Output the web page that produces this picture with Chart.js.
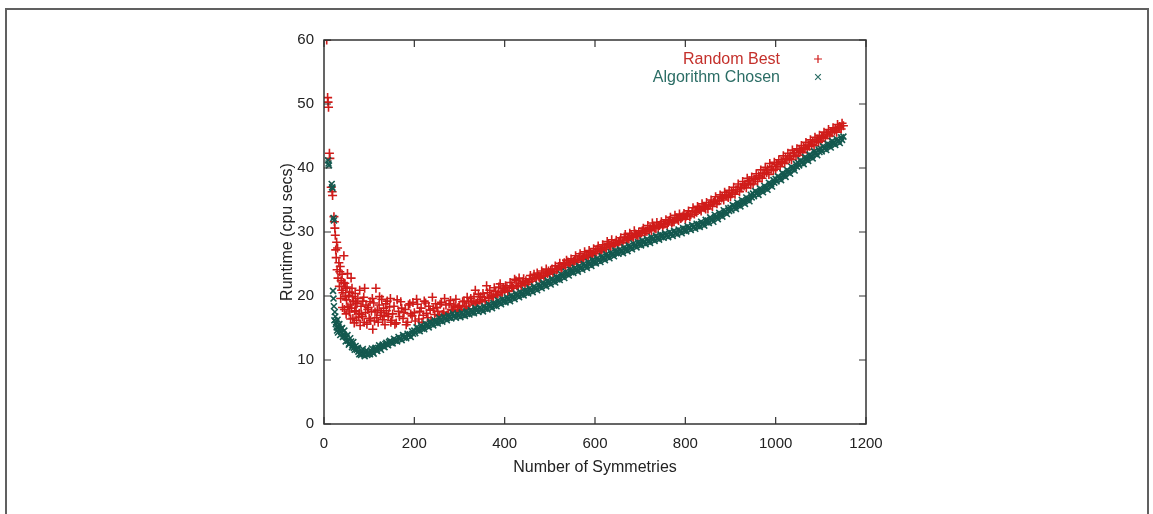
<!DOCTYPE html>
<html><head><meta charset="utf-8">
<script src="https://cdn.jsdelivr.net/npm/chart.js@4.4.0/dist/chart.umd.min.js"></script>
<style>
html,body{margin:0;padding:0;background:#fff;}
#wrap{position:relative;width:1153px;height:514px;overflow:hidden;background:#fff;}
#frame{position:absolute;left:5px;top:8px;width:1144px;height:530px;border:2px solid #606060;box-sizing:border-box;}
#c{position:absolute;left:0;top:0;}
.leg{position:absolute;font-family:"Liberation Sans",Arial,sans-serif;font-size:16px;line-height:18px;white-space:nowrap;text-align:right;}
</style></head><body>
<div id="wrap">
<div id="frame"></div>
<canvas id="c" width="1153" height="514"></canvas>
<div class="leg" style="right:373px;top:50px;color:#c4302b">Random Best</div>
<div class="leg" style="right:373px;top:68px;color:#2b6d65">Algorithm Chosen</div>
</div>
<script>
const seriesNames = ['Random Best', 'Algorithm Chosen'];
const xTicks = [0, 200, 400, 600, 800, 1000, 1200];
const yTicks = [0, 10, 20, 30, 40, 50, 60];

// small symmetry counts (scattered region)
const earlyRandomX = [6,8,9,10,12,13,16,18,19,22,23,24,25,28,30,27,33,44,36,40,38,46,48,42,50,55,58,62,65,68,70,72,75,78,80,82,85,88,90,92,95,98,100,102,105,108,110,112,115,118,120,122,125,128,130,132,135,138,140,142,145,148,52,56,60,64,
  26,29,31,34,35,37,39,41,43,45,47,49,51,53,57,59,61,63,67,69,71,73,77,79,83,86,89,93,97,103,107,113,117,123,127,133,137,143,147];
const earlyRandomY = [60,51,50.3,49.5,42.3,41.5,37,36.3,35.7,32.4,31.6,30.6,29.5,28.4,27.5,26,25.2,26.3,24.6,23.4,22.4,22,21.2,20.5,19.4,20.1,18.6,21.2,19.2,17.7,18.9,16.2,19.6,17.3,15.4,18.4,16.8,19.8,21.2,17.4,15.6,18.2,16.5,19.1,17.6,14.8,18.9,16.1,21.2,17.8,15.9,18.6,17.0,19.5,16.3,18.1,15.5,17.7,19.2,16.8,18.3,15.9,23.5,17.5,22.8,16.5,
  27.2,24.1,22.8,21.5,23.8,19.6,20.9,18.2,22.1,17.9,19.9,17.2,21.4,18.3,20.6,16.4,18.1,19.9,15.8,20.4,17.6,18.8,16.7,20.9,17.1,19.2,15.9,18.6,17.9,16.2,19.6,17.5,16.6,19.9,17.4,16.9,18.8,17.2,19.6];
const earlyAlgoX = [9,10,11,17,18,19,21,22,20,21,22,24,25,26,28,30,32,35,38,40,43,46,50,53,56,60,63,66,70,73,76,80,84,88,92,96,100,104,108,112,116,120,124,128,132,136,140,144,148,
  23,27,29,31,34,36,39,42,45,48,52,55,58,62,65,68,72,75,78,82,86,90,94,98,102,106,110,114,118,122,126,130,134,138,142,146];
const earlyAlgoY = [41.2,40.7,40.4,37.5,37.0,36.8,32.2,31.8,20.8,19.6,18.4,17.5,16.8,15.6,15.1,16.3,15.2,14.8,14.4,15.0,14.0,13.7,13.5,13.0,12.6,12.9,12.3,11.9,12.2,11.6,11.3,11.0,11.4,10.9,11.1,10.8,11.1,11.4,11.2,11.7,11.5,11.9,11.8,12.2,12.1,12.5,12.4,12.8,12.7,
  16.2,15.9,14.6,14.3,15.6,13.9,14.9,13.6,14.6,12.9,13.9,12.4,13.4,12.0,12.8,11.6,11.8,11.9,10.9,10.8,11.7,10.6,11.5,11.0,10.9,11.8,11.0,11.9,11.4,12.3,11.6,12.4,12.0,12.7,12.3,13.0];

// main region, first sampling
const symmetries = [
150,155,160,165,170,175,180,185,190,195,
200,205,210,215,220,225,230,235,240,245,
250,255,260,265,270,275,280,285,290,295,
300,305,310,315,320,325,330,335,340,345,
350,355,360,365,370,375,380,385,390,395,
400,405,410,415,420,425,430,435,440,445,
450,455,460,465,470,475,480,485,490,495,
500,505,510,515,520,525,530,535,540,545,
550,555,560,565,570,575,580,585,590,595,
600,605,610,615,620,625,630,635,640,645,
650,655,660,665,670,675,680,685,690,695,
700,705,710,715,720,725,730,735,740,745,
750,755,760,765,770,775,780,785,790,795,
800,805,810,815,820,825,830,835,840,845,
850,855,860,865,870,875,880,885,890,895,
900,905,910,915,920,925,930,935,940,945,
950,955,960,965,970,975,980,985,990,995,
1000,1005,1010,1015,1020,1025,1030,1035,1040,1045,
1050,1055,1060,1065,1070,1075,1080,1085,1090,1095,
1100,1105,1110,1115,1120,1125,1130,1135,1140,1145,
1150];
const randomBest = [
16.2,18.4,15.8,17.6,19.1,16.5,17.9,15.9,18.8,16.9,
17.4,19.5,16.4,18.1,17.0,18.9,16.6,17.8,19.8,17.1,
18.2,16.9,19.0,17.5,18.6,17.3,19.3,17.8,18.3,17.6,
18.5,17.9,19.2,18.4,18.9,19.6,18.6,20.9,19.0,19.4,
19.1,19.8,21.6,19.6,20.1,19.9,20.7,20.3,21.9,20.6,
20.9,21.3,20.8,21.6,21.2,22.4,21.5,21.9,22.2,21.8,
22.1,22.6,22.3,23.4,22.7,23.1,22.9,23.6,23.2,23.5,
23.4,24.2,23.8,24.1,24.6,24.3,24.9,24.5,25.3,24.8,
25.0,25.6,25.3,26.1,25.7,25.9,26.4,26.0,26.8,26.3,
26.6,27.3,26.9,27.2,27.6,27.3,28.2,27.7,27.9,28.3,
28.0,28.6,28.3,29.2,28.7,28.9,29.5,29.1,29.7,29.3,
29.5,30.2,29.8,30.1,30.4,30.2,30.9,30.5,30.7,31.2,
30.8,31.3,31.1,31.8,31.4,31.6,32.2,31.8,32.1,32.5,
32.0,32.7,32.4,33.2,32.8,33.1,33.6,33.3,34.0,33.6,
33.6,34.3,34.0,34.8,34.4,34.9,35.3,35.0,35.7,35.4,
35.5,36.1,35.9,36.6,36.3,36.9,37.2,36.9,37.6,37.4,
37.5,38.2,37.9,38.6,38.4,39.1,39.3,39.0,39.8,39.6,
39.8,40.5,40.2,40.9,40.7,41.3,41.5,41.3,42.0,41.8,
42.0,42.6,42.4,43.1,42.9,43.4,43.7,43.5,44.2,44.0,
44.2,44.8,44.6,45.2,45.0,45.5,45.8,45.6,46.3,46.1,
46.6];
const algorithmChosen = [
12.8,13.3,13.1,13.6,13.4,13.9,13.7,14.1,14.0,14.5,
14.6,15.1,14.9,15.4,15.2,15.7,15.5,16.0,15.8,16.2,
16.1,16.6,16.4,16.8,16.6,17.0,16.8,17.3,17.0,17.2,
17.0,17.4,17.2,17.6,17.4,17.8,17.6,18.1,17.9,18.2,
18.0,18.4,18.2,18.7,18.5,18.9,18.8,19.3,19.1,19.5,
19.4,19.8,19.6,20.1,19.9,20.4,20.2,20.6,20.5,20.9,
20.8,21.2,21.0,21.5,21.3,21.8,21.6,22.1,21.9,22.4,
22.2,22.7,22.5,23.0,22.9,23.4,23.2,23.8,23.6,24.1,
24.0,24.4,24.2,24.7,24.5,25.0,24.8,25.3,25.1,25.6,
25.5,25.9,25.7,26.2,26.0,26.5,26.3,26.8,26.6,27.1,
27.0,27.3,27.1,27.6,27.4,27.9,27.7,28.2,28.0,28.4,
28.3,28.7,28.5,28.9,28.7,29.2,29.0,29.4,29.2,29.6,
29.5,29.8,29.6,30.0,29.8,30.2,30.0,30.4,30.2,30.6,
30.5,30.9,30.7,31.1,30.9,31.3,31.2,31.6,31.4,31.9,
31.8,32.3,32.0,32.7,32.4,33.0,32.8,33.4,33.2,33.7,
33.8,34.2,34.0,34.6,34.4,35.0,34.8,35.4,35.2,35.8,
36.0,36.4,36.2,36.8,36.6,37.2,37.0,37.7,37.5,38.1,
38.3,38.7,38.5,39.2,39.0,39.7,39.5,40.2,40.0,40.6,
40.8,41.2,41.0,41.7,41.5,42.1,41.9,42.6,42.4,42.9,
43.0,43.4,43.2,43.8,43.6,44.2,44.0,44.5,44.3,44.8,
44.9];

// main region, second sampling
const symmetriesB = [
152,157,162,167,172,177,182,187,192,197,
202,207,212,217,222,227,232,237,242,247,
252,257,262,267,272,277,282,287,292,297,
302,307,312,317,322,327,332,337,342,347,
352,357,362,367,372,377,382,387,392,397,
402,407,412,417,422,427,432,437,442,447,
452,457,462,467,472,477,482,487,492,497,
502,507,512,517,522,527,532,537,542,547,
552,557,562,567,572,577,582,587,592,597,
602,607,612,617,622,627,632,637,642,647,
652,657,662,667,672,677,682,687,692,697,
702,707,712,717,722,727,732,737,742,747,
752,757,762,767,772,777,782,787,792,797,
802,807,812,817,822,827,832,837,842,847,
852,857,862,867,872,877,882,887,892,897,
902,907,912,917,922,927,932,937,942,947,
952,957,962,967,972,977,982,987,992,997,
1002,1007,1012,1017,1022,1027,1032,1037,1042,1047,
1052,1057,1062,1067,1072,1077,1082,1087,1092,1097,
1102,1107,1112,1117,1122,1127,1132,1137,1142,1147];
const randomBestB = [
17.2,15.6,19.4,16.8,18.1,17.4,15.5,18.6,17.2,19.0,
16.1,18.7,17.6,15.9,19.2,17.3,18.4,16.2,18.0,18.8,
17.6,18.7,17.1,19.6,17.0,18.8,17.9,18.6,19.5,18.2,
17.8,19.1,18.3,19.8,18.0,19.2,19.9,18.8,20.3,19.9,
20.4,19.3,20.5,20.9,19.8,21.3,20.1,21.4,20.5,21.2,
21.6,20.7,22.1,21.4,22.6,21.6,22.8,21.6,22.7,22.4,
21.8,23.2,22.7,22.9,23.6,22.8,23.9,23.1,24.2,23.9,
24.0,23.6,24.7,24.2,25.1,24.5,25.2,25.6,24.9,25.8,
25.4,26.3,25.6,26.6,25.8,26.9,26.2,27.1,26.5,27.4,
27.0,27.8,27.2,28.0,27.5,28.5,27.9,28.8,28.1,28.7,
28.4,29.1,28.6,29.6,28.9,29.8,29.3,30.2,29.5,30.0,
29.9,30.6,30.1,31.0,30.6,31.4,30.6,31.5,31.0,31.6,
31.2,31.9,31.5,32.3,31.6,32.6,32.0,32.8,32.3,32.9,
32.5,33.3,32.7,33.8,33.2,34.0,33.5,34.4,33.8,34.6,
34.2,35.0,34.6,35.5,34.9,35.8,35.5,36.2,35.8,36.5,
36.2,37.0,36.6,37.5,37.0,37.9,37.5,38.4,38.0,38.6,
38.3,39.1,38.8,39.7,39.2,40.1,39.8,40.7,40.2,40.9,
40.6,41.3,41.0,41.9,41.5,42.3,41.9,42.8,42.4,43.0,
42.8,43.5,43.2,44.0,43.6,44.4,44.1,44.8,44.5,45.1,
44.9,45.6,45.3,46.0,45.7,46.3,46.1,46.8,46.5,47.0];
const algorithmChosenB = [
12.6,13.0,12.9,13.3,13.1,13.5,13.4,13.8,13.6,14.1,
14.2,14.6,14.5,14.9,14.8,15.3,15.1,15.6,15.4,15.8,
15.7,16.1,16.0,16.4,16.2,16.6,16.5,16.8,16.6,16.9,
16.7,17.0,16.9,17.2,17.1,17.4,17.3,17.7,17.5,17.8,
17.6,18.0,17.9,18.3,18.1,18.5,18.4,18.9,18.7,19.1,
19.0,19.4,19.2,19.7,19.5,20.0,19.8,20.2,20.1,20.5,
20.4,20.8,20.6,21.1,20.9,21.4,21.2,21.7,21.5,22.0,
21.8,22.3,22.1,22.6,22.5,23.0,22.8,23.4,23.2,23.7,
23.6,24.0,23.8,24.3,24.1,24.6,24.4,24.9,24.7,25.2,
25.1,25.5,25.3,25.8,25.6,26.1,25.9,26.4,26.2,26.7,
26.6,26.9,26.7,27.2,27.0,27.5,27.3,27.8,27.6,28.0,
27.9,28.3,28.1,28.5,28.3,28.8,28.6,29.0,28.8,29.2,
29.1,29.4,29.2,29.6,29.4,29.8,29.6,30.0,29.8,30.2,
30.1,30.5,30.3,30.7,30.5,30.9,30.8,31.2,31.0,31.5,
31.4,31.9,31.6,32.3,32.0,32.6,32.4,33.0,32.8,33.3,
33.4,33.8,33.6,34.2,34.0,34.6,34.4,35.0,34.8,35.4,
35.6,36.0,35.8,36.4,36.2,36.8,36.6,37.3,37.1,37.7,
37.9,38.3,38.1,38.8,38.6,39.3,39.1,39.8,39.6,40.2,
40.4,40.8,40.6,41.3,41.1,41.7,41.5,42.2,42.0,42.5,
42.6,43.0,42.8,43.4,43.2,43.8,43.6,44.1,43.9,44.4];

const RED = '#d01c1a';
const TEAL = '#14594f';
const FONT = '"Liberation Sans", Arial, sans-serif';

function pts(xs, ys) { return xs.map((x, i) => ({x: x, y: ys[i]})); }
const redPoints = pts(earlyRandomX, earlyRandomY).concat(pts(symmetries, randomBest), pts(symmetriesB, randomBestB));
const tealPoints = pts(earlyAlgoX, earlyAlgoY).concat(pts(symmetries, algorithmChosen), pts(symmetriesB, algorithmChosenB));

const frameTicks = {
  id: 'frameTicks',
  afterDraw(chart) {
    const {ctx, chartArea: a, scales: {x, y}} = chart;
    ctx.save();
    ctx.strokeStyle = '#333';
    ctx.lineWidth = 1.5;
    ctx.strokeRect(a.left, a.top, a.right - a.left, a.bottom - a.top);
    ctx.lineWidth = 1.2;
    ctx.beginPath();
    xTicks.forEach(v => { const p = x.getPixelForValue(v);
      ctx.moveTo(p, a.bottom); ctx.lineTo(p, a.bottom - 7);
      ctx.moveTo(p, a.top); ctx.lineTo(p, a.top + 7); });
    yTicks.forEach(v => { const p = y.getPixelForValue(v);
      ctx.moveTo(a.left, p); ctx.lineTo(a.left + 7, p);
      ctx.moveTo(a.right, p); ctx.lineTo(a.right - 7, p); });
    ctx.stroke();
    ctx.strokeStyle = RED;
    Chart.helpers.drawPoint(ctx, {pointStyle: 'cross', radius: 4, borderWidth: 1.2, rotation: 0}, 818, 59);
    ctx.strokeStyle = '#2b6d65';
    Chart.helpers.drawPoint(ctx, {pointStyle: 'crossRot', radius: 4, borderWidth: 1.2, rotation: 0}, 818, 77);
    ctx.restore();
  }
};

new Chart(document.getElementById('c'), {
  type: 'scatter',
  data: {
    datasets: [
      {label: seriesNames[0], data: redPoints, order: 1, pointStyle: 'cross', radius: 4.5, borderWidth: 1.6, borderColor: RED, backgroundColor: RED},
      {label: seriesNames[1], data: tealPoints, order: 0, pointStyle: 'crossRot', radius: 4.2, borderWidth: 1.6, borderColor: TEAL, backgroundColor: TEAL}
    ]
  },
  options: {
    responsive: false,
    animation: false,
    devicePixelRatio: 1,
    layout: {padding: {left: 274, right: 287, top: 40, bottom: 33}},
    plugins: {legend: {display: false}, tooltip: {enabled: false}},
    scales: {
      x: {
        type: 'linear', min: 0, max: 1200,
        afterBuildTicks: s => { s.ticks = xTicks.map(v => ({value: v})); },
        afterFit: s => { s.height = 57; },
        grid: {display: false, drawTicks: false},
        border: {display: false},
        ticks: {padding: 11, color: '#222', font: {family: FONT, size: 15}, callback: v => String(v)},
        title: {display: true, text: 'Number of Symmetries', color: '#222', font: {family: FONT, size: 16}}
      },
      y: {
        type: 'linear', min: 0, max: 60,
        afterBuildTicks: s => { s.ticks = yTicks.map(v => ({value: v})); },
        afterFit: s => { s.width = 50; },
        grid: {display: false, drawTicks: false},
        border: {display: false},
        ticks: {padding: 10, color: '#222', font: {family: FONT, size: 15}, callback: v => String(v)},
        title: {display: true, text: 'Runtime (cpu secs)', color: '#222', font: {family: FONT, size: 16}}
      }
    }
  },
  plugins: [frameTicks]
});
</script>
</body></html>
